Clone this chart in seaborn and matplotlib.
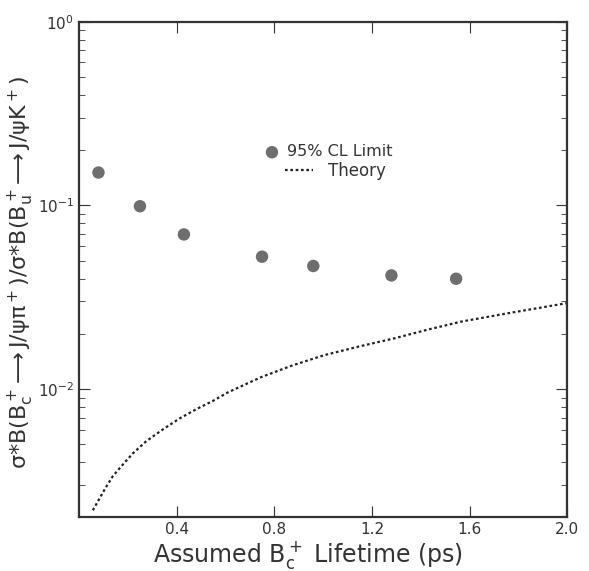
import numpy as np
import pandas as pd
import matplotlib
matplotlib.use("Agg")
import matplotlib.pyplot as plt
import seaborn as sns

# 95% CL limit points
lifetime_pts = [0.08, 0.25, 0.43, 0.75, 0.96, 1.28, 1.545]
limit_vals = [0.151, 0.099, 0.0695, 0.0526, 0.0468, 0.0416, 0.0399]

# theory curve
theory_x = [0.057, 0.105, 0.139, 0.180, 0.221, 0.276, 0.344, 0.412, 0.481, 0.549, 0.610,
            0.745, 0.87, 1.004, 1.15, 1.292, 1.43, 1.565, 1.78, 2.0]
theory_y = [0.00219, 0.00284, 0.00336, 0.00389, 0.00447, 0.00521, 0.00604, 0.00692, 0.00778, 0.00863, 0.0096,
            0.0116, 0.0134, 0.0153, 0.0171, 0.0189, 0.0211, 0.0233, 0.0262, 0.0294]

sns.set_style("ticks")
plt.rcParams['font.family'] = ['DejaVu Sans']
plt.rcParams['mathtext.fontset'] = 'dejavusans'

fig = plt.figure(figsize=(5.89, 5.71), dpi=100)
ax = fig.add_axes([0.134, 0.095, 0.829, 0.867])

pts = pd.DataFrame({'x': lifetime_pts, 'y': limit_vals})
th = pd.DataFrame({'x': theory_x, 'y': theory_y})

sns.scatterplot(data=pts, x='x', y='y', ax=ax, s=80, color='#6e6e6e',
                edgecolor='none', label='95% CL Limit', zorder=3, legend=False)
sns.lineplot(data=th, x='x', y='y', ax=ax, color='#222222', lw=1.6,
             linestyle=(0, (1.2, 1.2)), label='Theory', sort=False, legend=False)

ax.set_yscale('log')
ax.set_xlim(0, 2.0)
ax.set_ylim(0.00202, 1.0)
ax.set_xticks([0.4, 0.8, 1.2, 1.6, 2.0])
ax.set_xticklabels(['0.4', '0.8', '1.2', '1.6', '2.0'])

ax.tick_params(which='both', direction='in', top=True, right=True,
               labelsize=11, colors='#333333', labelcolor='#333333')
ax.tick_params(which='major', length=8, width=0.8)
ax.tick_params(which='minor', length=4, width=0.6)
for sp in ax.spines.values():
    sp.set_linewidth(1.6)
    sp.set_color('#333333')

ax.set_xlabel(r'Assumed $\mathregular{B_c^+}$ Lifetime (ps)', fontsize=17, color='#333333', labelpad=2)
ax.xaxis.label.set_x(0.469)
ax.set_ylabel(r'$\mathregular{\sigma{*}B(B_c^+\!\longrightarrow J/\psi\pi^+)/\sigma{*}B(B_u^+\!\longrightarrow J/\psi K^+)}$',
              fontsize=16, color='#333333', labelpad=1)
ax.yaxis.label.set_y(0.493)

# two separate legend entries, as in the original
h_pts = ax.collections[0]
h_th = ax.lines[0]
leg1 = ax.legend([h_pts], ['95% CL Limit'], loc='center left', bbox_to_anchor=(0.379, 0.737),
                 frameon=False, fontsize=11.5, handlelength=1.0, handletextpad=0.42,
                 borderpad=0, borderaxespad=0)
ax.add_artist(leg1)
leg2 = ax.legend([h_th], ['Theory'], loc='center left', bbox_to_anchor=(0.422, 0.699),
                 frameon=False, fontsize=12, handlelength=1.7, handletextpad=0.9,
                 borderpad=0, borderaxespad=0)
for lg in (leg1, leg2):
    for t in lg.get_texts():
        t.set_color('#333333')

fig.savefig('out.png', dpi=100)
